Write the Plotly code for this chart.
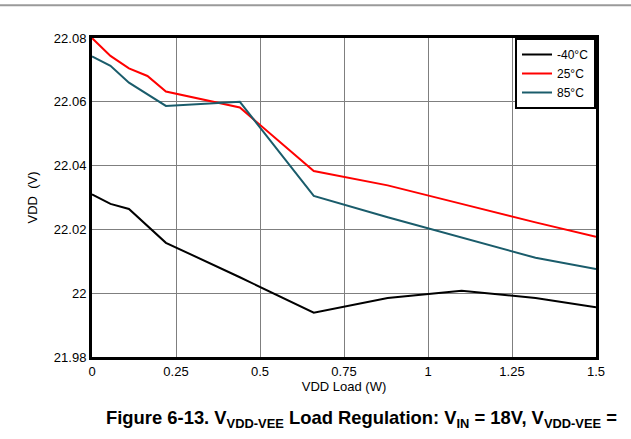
import plotly.graph_objects as go

load_m40 = [0, 0.055, 0.11, 0.22, 0.44, 0.66, 0.88, 1.1, 1.32, 1.5]
vdd_m40 = [22.031, 22.028, 22.0264, 22.0158, 22.005, 21.9939, 21.9985, 22.0008, 21.9985, 21.9956]

load_25 = [0, 0.055, 0.11, 0.165, 0.22, 0.44, 0.66, 0.88, 1.1, 1.32, 1.5]
vdd_25 = [22.080, 22.0744, 22.0705, 22.0681, 22.0632, 22.0582, 22.0383, 22.0338, 22.028, 22.0222, 22.0177]

load_85 = [0, 0.055, 0.11, 0.22, 0.44, 0.66, 0.88, 1.1, 1.32, 1.5]
vdd_85 = [22.0742, 22.0713, 22.066, 22.0587, 22.060, 22.0305, 22.0238, 22.0175, 22.0111, 22.0076]

names = ["-40°C", "25°C", "85°C"]
colors = ["#000000", "#ff0000", "#1a5c6b"]

fig = go.Figure()
for x, y, n, c in [(load_m40, vdd_m40, names[0], colors[0]),
                   (load_25, vdd_25, names[1], colors[1]),
                   (load_85, vdd_85, names[2], colors[2])]:
    fig.add_trace(go.Scatter(x=x, y=y, mode="lines", name=n,
                             line=dict(color=c, width=2)))

font_family = "Liberation Sans, Arial, sans-serif"
fig.update_layout(
    width=631, height=439,
    margin=dict(l=92, r=35, t=38, b=82),
    paper_bgcolor="white", plot_bgcolor="white",
    font=dict(family=font_family, size=13, color="black"),
    showlegend=True,
    legend=dict(x=1, y=1, xanchor="right", yanchor="top",
                bordercolor="black", borderwidth=2, bgcolor="white",
                font=dict(size=12), itemwidth=30, tracegroupgap=0),
    xaxis=dict(range=[0, 1.5], tickvals=[0, 0.25, 0.5, 0.75, 1, 1.25, 1.5],
               showgrid=True, gridcolor="#7f7f7f", gridwidth=1,
               showline=True, linecolor="black", linewidth=3, mirror=True,
               zeroline=False, ticks="",
               title=dict(text="VDD Load (W)", font=dict(size=13), standoff=0)),
    yaxis=dict(range=[21.98, 22.08], tickvals=[21.98, 22, 22.02, 22.04, 22.06, 22.08],
               showgrid=True, gridcolor="#7f7f7f", gridwidth=1,
               showline=True, linecolor="black", linewidth=3, mirror=True,
               zeroline=False, ticks="",
               title=dict(text="VDD  (V)", font=dict(size=13), standoff=14)),
)

fig.add_shape(type="line", xref="paper", yref="paper", x0=-0.2, x1=1.1,
              y0=1.103, y1=1.103, line=dict(color="#9a9a9a", width=2))

fig.add_annotation(
    xref="paper", yref="paper", x=(104 - 92) / 504, y=-(419 - 357) / 319,
    xanchor="left", yanchor="middle", showarrow=False,
    text="<b>Figure 6-13. V<sub>VDD-VEE</sub> Load Regulation: V<sub>IN</sub> = 18V, V<sub>VDD-VEE</sub> =</b>",
    font=dict(family=font_family, size=18.4, color="black"),
)

fig.write_html("out.html", config={"displayModeBar": False},
               post_script="document.body.style.margin='0';")
